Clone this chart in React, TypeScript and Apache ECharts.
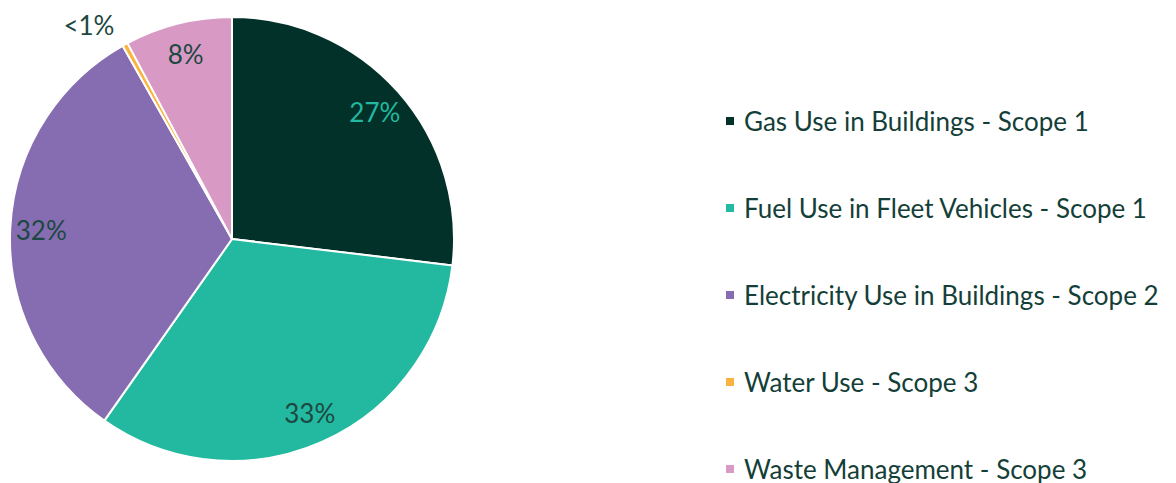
import React, { useEffect, useRef } from "react";
import * as echarts from "echarts";

const categories = [
  "Gas Use in Buildings - Scope 1",
  "Fuel Use in Fleet Vehicles - Scope 1",
  "Electricity Use in Buildings - Scope 2",
  "Water Use - Scope 3",
  "Waste Management - Scope 3",
];
const values = [26.9, 32.85, 32.05, 0.4, 7.8];
const labels = ["27%", "33%", "32%", "<1%", "8%"];
const colors = ["#023129", "#23b9a0", "#866cb0", "#f9b33f", "#d89ac4"];
const labelColors = ["#23b9a0", "#1c4842", "#1c4842", "#1c4842", "#1c4842"];

export default function App() {
  const ref = useRef<HTMLDivElement>(null);
  useEffect(() => {
    if (!ref.current) return;
    const chart = echarts.init(ref.current, null, { renderer: "svg" });
    const font = "Lato, 'Open Sans', sans-serif";
    chart.setOption({
      animation: false,
      legend: {
        orient: "vertical",
        left: 724,
        top: 108,
        height: 430,
        padding: 0,
        itemWidth: 10,
        itemHeight: 10,
        itemGap: 61,
        icon: "rect",
        data: categories.map((c, i) => ({ name: c, itemStyle: { color: colors[i] } })),
        textStyle: { fontFamily: font, fontSize: 26, lineHeight: 26, color: "#143f38", padding: [0, 0, 0, 4] },
      },
      series: [
        {
          type: "pie",
          center: [232, 239],
          radius: [0, 222],
          startAngle: 90,
          clockwise: true,
          silent: true,
          label: { show: false },
          labelLine: { show: false },
          itemStyle: { borderColor: "#ffffff", borderWidth: 2 },
          data: categories.map((c, i) => ({ name: c, value: values[i], itemStyle: { color: colors[i] } })),
        },
        {
          type: "pie",
          center: [232, 239],
          radius: [154, 222],
          startAngle: 90,
          clockwise: true,
          silent: true,
          legendHoverLink: false,
          itemStyle: { color: "rgba(0,0,0,0)", borderWidth: 0 },
          label: {
            show: true,
            position: "inside",
            fontFamily: font,
            fontSize: 26,
          },
          labelLine: { show: false },
          data: categories.map((c, i) => ({
            name: c,
            value: values[i],
            itemStyle: { color: "rgba(0,0,0,0)" },
            label:
              i === 3
                ? { show: true, position: "outside", formatter: labels[i], color: labelColors[i], fontFamily: font, fontSize: 26, distanceToLabelLine: 0 }
                : { formatter: labels[i], color: labelColors[i] },
            labelLine: i === 3 ? { show: false, length: 22, length2: 0 } : { show: false },
          })),
        },
      ],
    });
    return () => chart.dispose();
  }, []);
  return <div ref={ref} style={{ position: "fixed", left: 0, top: 0, width: 1176, height: 483, background: "#fff" }} />;
}
